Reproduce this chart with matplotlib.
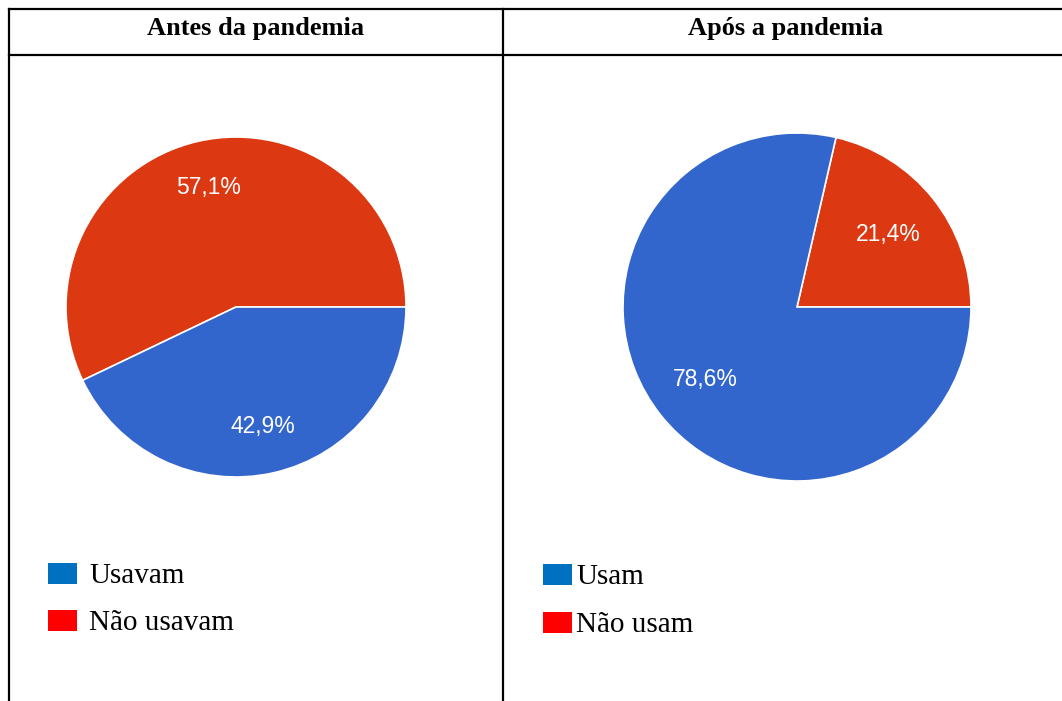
import matplotlib
matplotlib.use('Agg')
import matplotlib.pyplot as plt
from matplotlib.patches import Rectangle

# data
titles = ['Antes da pandemia', 'Após a pandemia']
before_labels = ['Não usavam', 'Usavam']
before_values = [57.1, 42.9]
after_labels = ['Não usam', 'Usam']
after_values = [21.4, 78.6]

PIE_COLORS = ['#DC3912', '#3366CC']
LEG_COLORS = {'red': '#FF0000', 'blue': '#0070C0'}

W, H = 1062, 701
fig = plt.figure(figsize=(W / 100, H / 100), dpi=100)

# overlay in pixel coords (y down)
ov = fig.add_axes([0, 0, 1, 1])
ov.set_xlim(0, W)
ov.set_ylim(H, 0)
ov.axis('off')

# table lines
lw = 1.6
ov.plot([9, W], [9, 9], color='black', lw=lw)
ov.plot([9, W], [55, 55], color='black', lw=lw)
ov.plot([9, 9], [9, H], color='black', lw=lw)
ov.plot([503, 503], [9, H], color='black', lw=lw)

ov.text(256, 29, titles[0], ha='center', va='center', fontsize=19,
        fontweight='bold', family='Liberation Serif')
ov.text(786, 29, titles[1], ha='center', va='center', fontsize=19,
        fontweight='bold', family='Liberation Serif')


def draw_pie(cx, cy, r, values, pctdist):
    ax = fig.add_axes([(cx - r) / W, (H - cy - r) / H, 2 * r / W, 2 * r / H])
    ax.pie(values, colors=PIE_COLORS, startangle=0, counterclock=True,
           autopct=lambda p: f'{p:.1f}%'.replace('.', ','),
           pctdistance=pctdist,
           wedgeprops=dict(edgecolor='white', linewidth=1.2),
           textprops=dict(color='white', fontsize=16.5, family='Liberation Sans'))
    ax.set_xlim(-1, 1)
    ax.set_ylim(-1, 1)
    ax.set_aspect('equal')
    return ax


draw_pie(236, 307, 170, before_values, 0.72)
draw_pie(797, 307, 174, after_values, 0.67)


def draw_legend(x0, xtext, labels, y_tops):
    # labels in order: blue first then red
    for lab, col, yt in zip(labels, [LEG_COLORS['blue'], LEG_COLORS['red']], y_tops):
        ov.add_patch(Rectangle((x0, yt), 29, 21, color=col, lw=0))
        ov.text(xtext, yt + 20, lab, ha='left', va='baseline', fontsize=21,
                family='Liberation Serif')


draw_legend(48, 89, [before_labels[1], before_labels[0]], [563, 610])
draw_legend(543, 576, [after_labels[1], after_labels[0]], [564, 612])

fig.savefig('out.png', dpi=100)
